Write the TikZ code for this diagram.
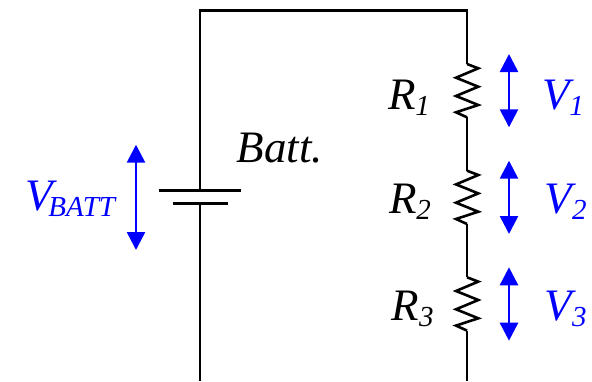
\documentclass[tikz,border=0pt]{standalone}
\usepackage{fontspec}
\setmainfont{Liberation Serif}
\usetikzlibrary{arrows.meta}
\definecolor{vblue}{RGB}{0,0,255}
\newcommand{\bigit}{\fontsize{45}{45}\selectfont\itshape}
\newcommand{\subit}[1]{\raisebox{-6pt}{\fontsize{29}{29}\selectfont\itshape #1}}
\tikzset{
  wire/.style={line width=2.6pt,black,line join=miter},
  plate/.style={line width=2.6pt,black},
  volt/.style={line width=2.6pt,vblue,{Triangle[length=18pt,width=18pt]}-{Triangle[length=18pt,width=18pt]}},
  lab/.style={anchor=base west,inner sep=0pt,outer sep=0pt,black,font=\bigit},
  vlab/.style={lab,text=vblue},
  zig/.pic={\draw[wire] (0,0) -- (11.3,4.3) -- (-11,13.7) -- (11.3,22.7) -- (-11,32) -- (11.3,41) -- (-11,48.3) -- (0,53.3);}
}
\begin{document}
\begin{tikzpicture}[x=1pt,y=-1pt]
\useasboundingbox (0,0) rectangle (592,381);
% wire junctions
\coordinate (battTop) at (200,190.7);
\coordinate (battBot) at (200,203.7);
\coordinate (tl) at (200,10.5);
\coordinate (tr) at (467,10.5);
\coordinate (r1a) at (467,64);
\coordinate (r1b) at (467,117.3);
\coordinate (r2a) at (467,170.7);
\coordinate (r2b) at (467,224);
\coordinate (r3a) at (467,277.3);
\coordinate (r3b) at (467,330.7);
\coordinate (br) at (467,381);
\coordinate (bl) at (200,381);
\coordinate (p1l) at (159.3,190.7);
\coordinate (p1r) at (241,190.7);
\coordinate (p2l) at (172.7,203.7);
\coordinate (p2r) at (228,203.7);
% wires
\draw[wire] (battTop) -- (tl) -- (tr) -- (r1a);
\draw[wire] (r1b) -- (r2a);
\draw[wire] (r2b) -- (r3a);
\draw[wire] (r3b) -- (br);
\draw[wire] (battBot) -- (bl);
% battery
\draw[plate] (p1l) -- (p1r);
\draw[plate] (p2l) -- (p2r);
% resistors
\pic at (r1a) {zig};
\pic at (r2a) {zig};
\pic at (r3a) {zig};
% voltage arrows
\coordinate (vbt) at (136,144.7);
\coordinate (vbb) at (136,250);
\coordinate (v1t) at (509,54);
\coordinate (v1b) at (509,127.3);
\coordinate (v2t) at (509,160.7);
\coordinate (v2b) at (509,234);
\coordinate (v3t) at (509,267.3);
\coordinate (v3b) at (509,340.7);
\draw[volt] (vbt) -- (vbb);
\draw[volt] (v1t) -- (v1b);
\draw[volt] (v2t) -- (v2b);
\draw[volt] (v3t) -- (v3b);
% labels
\node[lab] (lb) at (236.7,162.7) {Batt.};
\node[lab] (lr1) at (388,109.3) {R\subit{1}};
\node[lab] (lr2) at (389,213.5) {R\subit{2}};
\node[lab] (lr3) at (391.7,320.7) {R\subit{3}};
\node[vlab] (lv1) at (542,109.5) {V\subit{1}};
\node[vlab] (lv2) at (544.7,213.3) {V\subit{2}};
\node[vlab] (lv3) at (544.7,320.7) {V\subit{3}};
\node[vlab] (lvb) at (25,210.7) {V\kern-4pt\subit{BATT}};
\end{tikzpicture}
\end{document}
